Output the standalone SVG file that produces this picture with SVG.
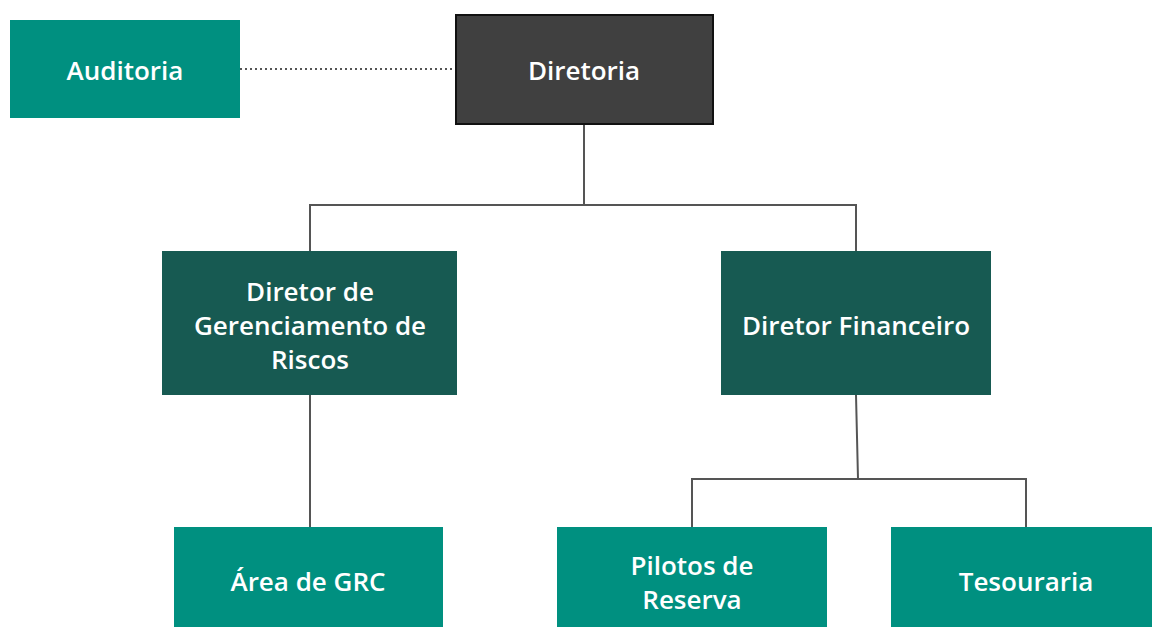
<svg xmlns="http://www.w3.org/2000/svg" width="1152" height="627" viewBox="0 0 1152 627">
<style>
.lbl{font-family:"Open Sans",Lato,"Liberation Sans",sans-serif;font-weight:600;font-size:26px;fill:#ffffff;text-anchor:middle;dominant-baseline:central}
.teal{fill:#009080}
.dark{fill:#175a52}
.conn{stroke:#555555;stroke-width:2;fill:none}
</style>
<rect width="1152" height="627" fill="#ffffff"/>
<g id="connectors">
<line class="conn" x1="240" y1="69" x2="456" y2="69" stroke-dasharray="2,3"/>
<path class="conn" d="M584 124 V205 M310 251 V205 H856 V251"/>
<path class="conn" d="M310 395 V527"/>
<path class="conn" d="M856 395 L858 479 M692 527 V479 H1026 V527"/>
</g>
<g id="auditoria"><rect class="teal" x="10" y="20" width="230" height="98"/><text class="lbl" x="125" y="70">Auditoria</text></g>
<g id="diretoria"><rect x="456" y="15" width="257" height="109" fill="#404040" stroke="#111111" stroke-width="2"/><text class="lbl" x="584" y="70">Diretoria</text></g>
<g id="dir-riscos"><rect class="dark" x="162" y="251" width="295" height="144"/><text class="lbl" x="310" y="291">Diretor de</text><text class="lbl" x="310" y="325">Gerenciamento de</text><text class="lbl" x="310" y="359">Riscos</text></g>
<g id="dir-fin"><rect class="dark" x="721" y="251" width="270" height="144"/><text class="lbl" x="856" y="325">Diretor Financeiro</text></g>
<g id="grc"><rect class="teal" x="174" y="527" width="269" height="100"/><text class="lbl" x="308" y="581">Área de GRC</text></g>
<g id="pilotos"><rect class="teal" x="557" y="527" width="270" height="100"/><text class="lbl" x="692" y="565">Pilotos de</text><text class="lbl" x="692" y="599">Reserva</text></g>
<g id="tesouraria"><rect class="teal" x="891" y="527" width="261" height="100"/><text class="lbl" x="1026" y="581">Tesouraria</text></g>
</svg>
